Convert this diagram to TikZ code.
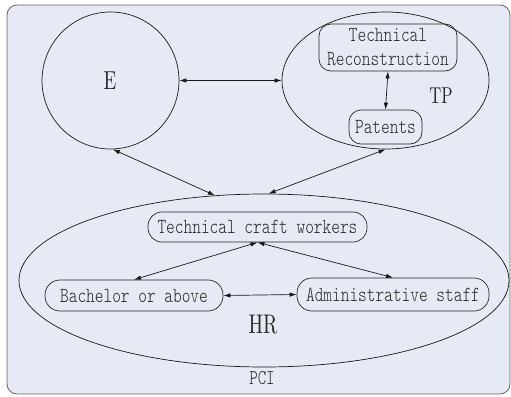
\documentclass[tikz,border=0pt]{standalone}
\usepackage{fontspec}
\usetikzlibrary{shapes.geometric,arrows.meta}
\newfontfamily\dfont[FakeStretch=0.77]{lmmonolt10-regular.otf}
\newfontfamily\lfont[FakeStretch=0.72]{lmroman10-regular.otf}
\begin{document}
\begin{tikzpicture}[x=1pt,y=-1pt,line width=0.7pt,
  txt/.style={text=black!85, font=\dfont\fontsize{21.5}{24}\selectfont},
  pill/.style={draw=black!85, txt, inner sep=0pt, align=center},
  big/.style={text=black!85, font=\lfont\fontsize{#1}{#1}\selectfont, inner sep=0pt},
  arr/.style={{Latex[length=7pt,width=4.5pt]}-{Latex[length=7pt,width=4.5pt]}, line width=0.7pt, black!90},
  ring/.style={draw=black!90, inner sep=0pt}]
\useasboundingbox (0,0) rectangle (511,396);
\draw[draw=black!60, fill={rgb,255:red,230;green,234;blue,244}, rounded corners=10pt, line width=0.8pt] (7,5) rectangle (510,394);
% containers
\node[ring, circle, minimum size=137pt] (E) at (110.5,80.5) {};
\node[ring, ellipse, minimum width=207pt, minimum height=137pt] (TP) at (385.5,80.5) {};
\node[ring, ellipse, minimum width=490pt, minimum height=173pt] (HR) at (264,280.5) {};
% labels
\node[big=26] (el) at (110,81) {E};
\node[big=23] (tpl) at (441,96) {TP};
\node[big=27] (hrl) at (263,325) {HR};
\node[txt, font=\dfont\fontsize{21}{21}\selectfont, inner sep=0pt] (pcil) at (262,378) {PCI};
% boxes
\node[pill, rounded corners=12pt, minimum width=138pt, minimum height=47pt] (TR) at (388,47.5) {Technical\\Reconstruction};
\node[pill, rounded corners=12pt, minimum width=73pt, minimum height=34pt] (PA) at (385.5,127) {Patents};
\node[pill, rounded corners=14pt, minimum width=219pt, minimum height=30pt] (TC) at (257.5,227) {Technical craft workers};
\node[pill, rounded corners=15pt, minimum width=178pt, minimum height=31pt] (BA) at (134,295.5) {Bachelor or above};
\node[pill, rounded corners=15pt, minimum width=192pt, minimum height=33pt] (AD) at (393,294.5) {Administrative staff};
% connectors
\draw[arr] (E.east) -- (TP.west);
\draw[arr] (TR.south) -- (PA.north);
\draw[arr] (E.-88) -- (HR.120);
\draw[arr] (TP.south) -- (HR.87);
\draw[arr] (BA.north) -- (TC.south);
\draw[arr] (TC.south) -- (AD.north);
\draw[arr] (BA.east) -- (AD.west);
\end{tikzpicture}
\end{document}
